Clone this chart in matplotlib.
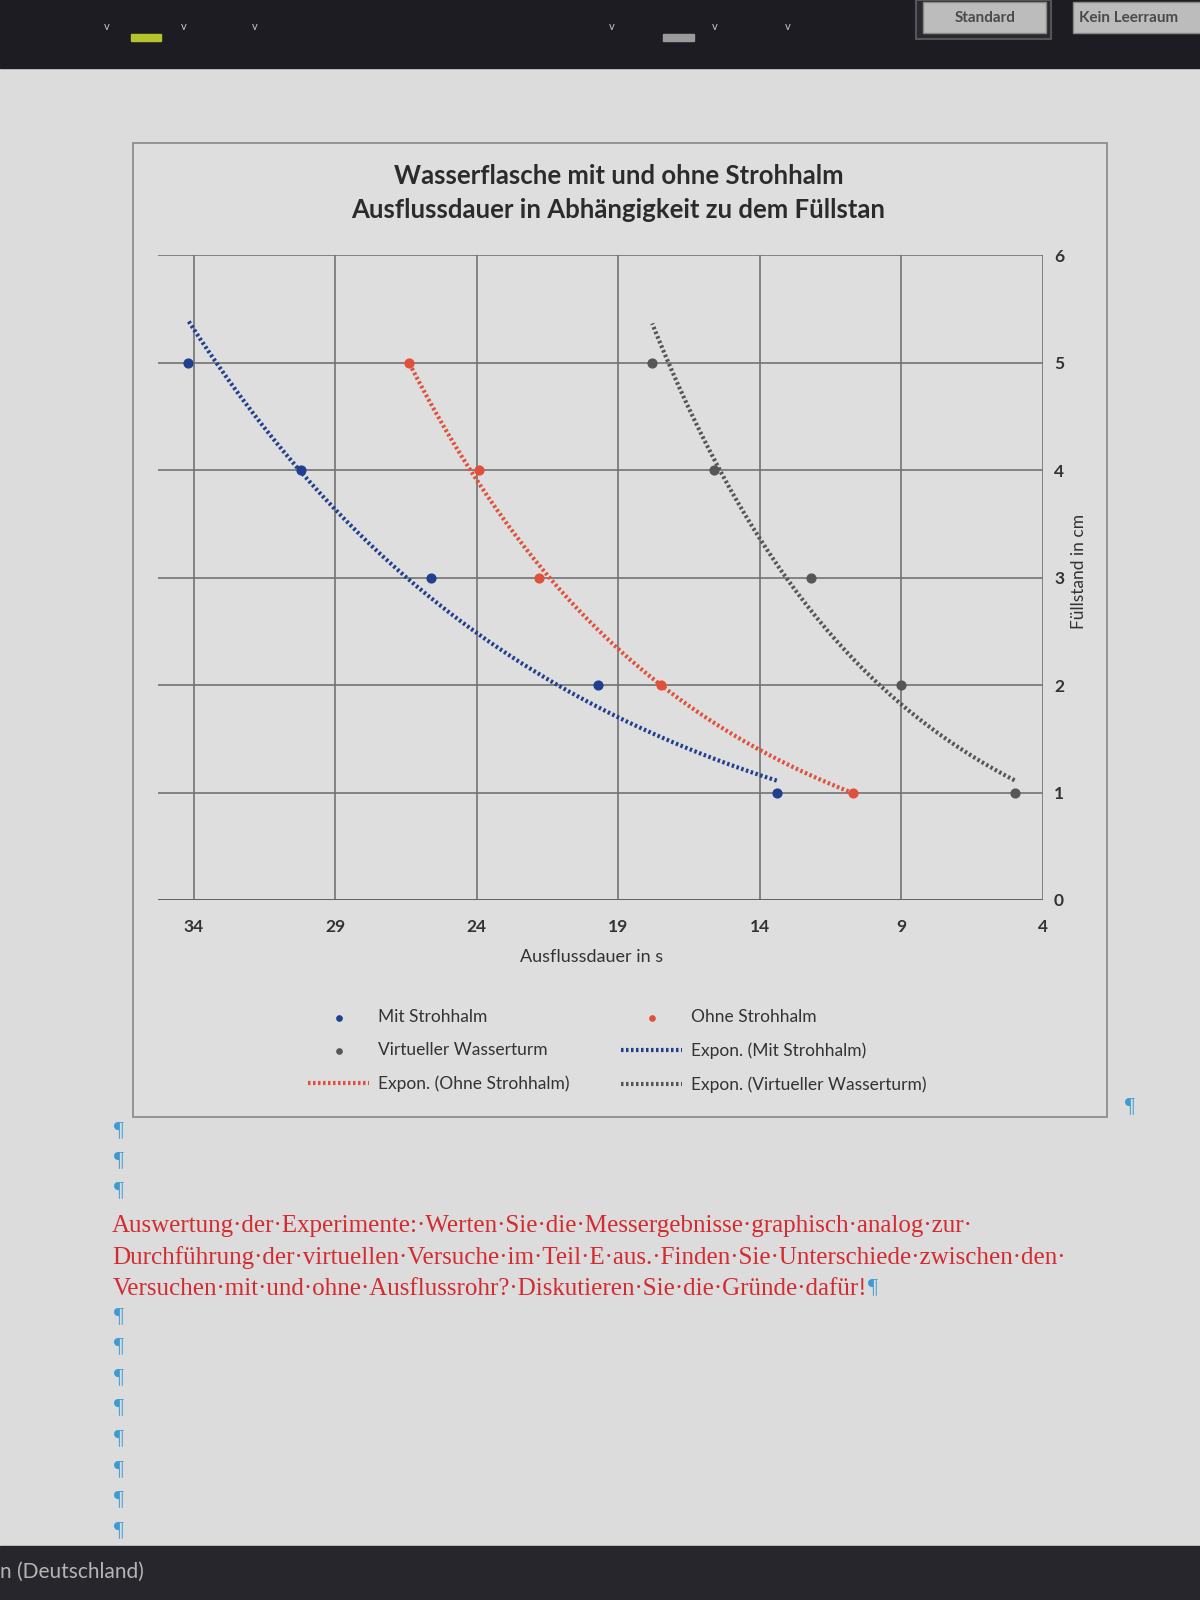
import matplotlib
matplotlib.use("Agg")
import matplotlib.pyplot as plt
from matplotlib.patches import Rectangle
import numpy as np

plt.rcParams['font.family'] = ['Lato', 'DejaVu Sans']

fuellstand = [5, 4, 3, 2, 1]
mit_strohhalm = [34.2, 30.2, 25.6, 19.7, 13.4]
ohne_strohhalm = [26.4, 23.9, 21.8, 17.5, 10.7]
virt_wasserturm = [17.8, 15.6, 12.2, 9.0, 5.0]

x_ticks = [34, 29, 24, 19, 14, 9, 4]
y_ticks = [0, 1, 2, 3, 4, 5, 6]

series = [
    ("Mit Strohhalm", mit_strohhalm, "#203f8e"),
    ("Ohne Strohhalm", ohne_strohhalm, "#e0503a"),
    ("Virtueller Wasserturm", virt_wasserturm, "#565656"),
]

W, H = 1176, 1568
fig = plt.figure(figsize=(12, 16), dpi=100)
fig.patch.set_facecolor("#d9d9d9")

# page / screen background drawn in reference pixel coords
bg = fig.add_axes([0, 0, 1, 1], zorder=-5)
bg.set_xlim(0, W)
bg.set_ylim(H, 0)
bg.axis("off")
bg.add_patch(Rectangle((0, 0), W, 67, color="#1d1c23"))
bg.add_patch(Rectangle((0, 1515), W, 53, color="#26262c"))
bg.add_patch(Rectangle((0, 67), W, 1448, color="#dcdcdc", zorder=-1))
for cx in [105, 180, 250, 600, 700, 772]:
    bg.text(cx, 26, "v", color="#c8c8c8", fontsize=8, ha="center", va="center")
bg.add_patch(Rectangle((128, 33), 30, 7, color="#b6c42c"))
bg.add_patch(Rectangle((650, 33), 30, 7, color="#9a9a9a"))
bg.add_patch(Rectangle((898, 0), 132, 38, facecolor="#2a2a30", edgecolor="#555555", lw=1.5))
bg.add_patch(Rectangle((905, 2), 120, 30, facecolor="#bcbcbc", edgecolor="#888888"))
bg.text(965, 18, "Standard", fontsize=11, fontweight="bold", color="#4a4a4a", ha="center", va="center")
bg.add_patch(Rectangle((1052, 2), 130, 30, facecolor="#bcbcbc", edgecolor="#888888"))
bg.text(1057, 18, "Kein Leerraum", fontsize=11, fontweight="bold", color="#4a4a4a", ha="left", va="center")
bg.text(0, 1540, "n (Deutschland)", fontsize=15, color="#b5b5b5", ha="left", va="center")

# chart frame
bg.add_patch(Rectangle((130, 140), 955, 955, facecolor="#dedede", edgecolor="#8e8e8e", lw=1.3, zorder=0))

pil = "#3d9bd3"
for py in [1108, 1137, 1167, 1290, 1320, 1350, 1380, 1410, 1440, 1470, 1500]:
    bg.text(112, py, "¶", color=pil, fontsize=16, family="Liberation Serif", ha="left", va="center")
bg.text(1102, 1085, "¶", color=pil, fontsize=16, family="Liberation Serif", ha="left", va="center")

txt_lines = [
    "Auswertung·der·Experimente:·Werten·Sie·die·Messergebnisse·graphisch·analog·zur·",
    "Durchführung·der·virtuellen·Versuche·im·Teil·E·aus.·Finden·Sie·Unterschiede·zwischen·den·",
    "Versuchen·mit·und·ohne·Ausflussrohr?·Diskutieren·Sie·die·Gründe·dafür!",
]
last = None
for i, line in enumerate(txt_lines):
    last = bg.text(110, 1201 + i * 31, line, color="#d42a30", fontsize=18,
                   family="Liberation Serif", ha="left", va="center")
fig.canvas.draw()
ext = last.get_window_extent()
end_x = bg.transData.inverted().transform((ext.x1, ext.y0))[0]
bg.text(end_x + 1, 1262, "¶", color=pil, fontsize=16, family="Liberation Serif", ha="left", va="center")

# chart
ax = fig.add_axes([155 / W, 1 - 882 / H, (1022 - 155) / W, (882 - 250) / H])
ax.set_facecolor("none")
ax.set_xlim(35.25, 4)
ax.set_ylim(0, 6)
ax.set_xticks(x_ticks)
ax.set_yticks(y_ticks)
ax.grid(True, color="#727272", lw=1.2)
ax.set_axisbelow(True)
for s in ax.spines.values():
    s.set_visible(False)
ax.axhline(0, color="#5f5f5f", lw=2)
ax.yaxis.tick_right()
ax.tick_params(axis="x", length=0, pad=14, labelsize=12.5, labelcolor="#333333")
ax.tick_params(axis="y", length=0, pad=8, labelsize=12.5, labelcolor="#333333")
for lbl in ax.get_xticklabels() + ax.get_yticklabels():
    lbl.set_fontweight("bold")

point_handles = []
trend_handles = []
for name, xs, col in series:
    xs = np.array(xs)
    ys = np.array(fuellstand, dtype=float)
    sc = ax.scatter(xs, ys, s=40, color=col, zorder=4, label=name)
    point_handles.append(sc)
    # exponential trend line, like Excel's "Expon." fit
    b, lna = np.polyfit(xs, np.log(ys), 1)
    xt = np.linspace(xs.min(), xs.max(), 200)
    ln, = ax.plot(xt, np.exp(lna) * np.exp(b * xt), color=col, lw=3,
                  linestyle=(0, (0.6, 0.6)), zorder=3, label="Expon. (" + name + ")")
    trend_handles.append(ln)

fig.text(606 / W, 1 - 172 / H, "Wasserflasche mit und ohne Strohhalm", fontsize=18.5,
         fontweight="bold", color="#2b2b2b", ha="center", va="center")
fig.text(606 / W, 1 - 206 / H, "Ausflussdauer in Abhängigkeit zu dem Füllstan", fontsize=18.5,
         fontweight="bold", color="#2b2b2b", ha="center", va="center")
fig.text(580 / W, 1 - 938 / H, "Ausflussdauer in s", fontsize=13, color="#333333",
         ha="center", va="center")
fig.text(1057 / W, 1 - 560 / H, "Füllstand in cm", fontsize=12.5, color="#333333",
         ha="center", va="center", rotation=90)

# Excel fills the legend row by row; matplotlib fills columns, so reorder
handles = [point_handles[0], point_handles[2], trend_handles[1],
           point_handles[1], trend_handles[0], trend_handles[2]]
leg = fig.legend(handles=handles, labels=[h.get_label() for h in handles], ncol=2,
                 loc="center", bbox_to_anchor=(605 / W, 1 - 1030 / H), frameon=False,
                 fontsize=12.5, handlelength=3.5, handletextpad=0.5, labelspacing=1.0,
                 columnspacing=3.0, scatterpoints=1, markerscale=0.6)
for t in leg.get_texts():
    t.set_color("#333333")

fig.savefig("out.png", dpi=100)
